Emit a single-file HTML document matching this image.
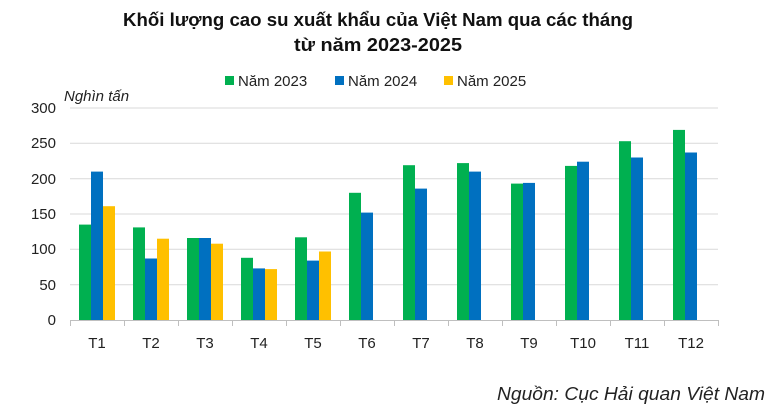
<!DOCTYPE html>
<html><head><meta charset="utf-8"><style>
body{margin:0;background:#fff;}
svg{display:block;font-family:"Liberation Sans",sans-serif;}
</style></head><body>
<svg width="780" height="414" viewBox="0 0 780 414">
<text x="378" y="26" text-anchor="middle" font-size="18" font-weight="bold" fill="#111" textLength="510" lengthAdjust="spacingAndGlyphs">Khối lượng cao su xuất khẩu của Việt Nam qua các tháng</text>
<text x="378" y="51" text-anchor="middle" font-size="18" font-weight="bold" fill="#111" textLength="168" lengthAdjust="spacingAndGlyphs">từ năm 2023-2025</text>
<g font-size="15" fill="#222">
<rect x="225" y="76" width="9" height="9" fill="#00b050"/><text x="238" y="86">Năm 2023</text>
<rect x="335" y="76" width="9" height="9" fill="#0070c0"/><text x="348" y="86">Năm 2024</text>
<rect x="444" y="76" width="9" height="9" fill="#ffc000"/><text x="457" y="86">Năm 2025</text>
</g>
<text x="64" y="101" font-size="15" font-style="italic" fill="#222">Nghìn tấn</text>
<g stroke="#d9d9d9" stroke-width="1">
<line x1="70" y1="108" x2="718" y2="108"/><line x1="70" y1="143.3" x2="718" y2="143.3"/><line x1="70" y1="178.7" x2="718" y2="178.7"/><line x1="70" y1="214" x2="718" y2="214"/><line x1="70" y1="249.3" x2="718" y2="249.3"/><line x1="70" y1="284.7" x2="718" y2="284.7"/>
</g>
<g font-size="15" fill="#222" text-anchor="end">
<text x="56" y="113">300</text><text x="56" y="148">250</text><text x="56" y="184">200</text><text x="56" y="219">150</text><text x="56" y="254">100</text><text x="56" y="290">50</text><text x="56" y="325">0</text>
</g>
<g fill="#00b050">
<rect x="79" y="224.6" width="12" height="95.4"/><rect x="133" y="227.4" width="12" height="92.6"/><rect x="187" y="238" width="12" height="82"/><rect x="241" y="257.8" width="12" height="62.2"/><rect x="295" y="237.3" width="12" height="82.7"/><rect x="349" y="192.8" width="12" height="127.2"/><rect x="403" y="165.2" width="12" height="154.8"/><rect x="457" y="163.1" width="12" height="156.9"/><rect x="511" y="183.6" width="12" height="136.4"/><rect x="565" y="165.9" width="12" height="154.1"/><rect x="619" y="141.2" width="12" height="178.8"/><rect x="673" y="129.9" width="12" height="190.1"/>
</g>
<g fill="#0070c0">
<rect x="91" y="171.6" width="12" height="148.4"/><rect x="145" y="258.5" width="12" height="61.5"/><rect x="199" y="238" width="12" height="82"/><rect x="253" y="268.4" width="12" height="51.6"/><rect x="307" y="260.6" width="12" height="59.4"/><rect x="361" y="212.6" width="12" height="107.4"/><rect x="415" y="188.6" width="12" height="131.4"/><rect x="469" y="171.6" width="12" height="148.4"/><rect x="523" y="182.9" width="12" height="137.1"/><rect x="577" y="161.7" width="12" height="158.3"/><rect x="631" y="157.5" width="12" height="162.5"/><rect x="685" y="152.5" width="12" height="167.5"/>
</g>
<g fill="#ffc000">
<rect x="103" y="206.2" width="12" height="113.8"/><rect x="157" y="238.7" width="12" height="81.3"/><rect x="211" y="243.7" width="12" height="76.3"/><rect x="265" y="269.1" width="12" height="50.9"/><rect x="319" y="251.5" width="12" height="68.5"/>
</g>
<g stroke="#bfbfbf" stroke-width="1">
<line x1="70" y1="320.5" x2="718" y2="320.5"/>
<line x1="70.5" y1="320" x2="70.5" y2="326"/><line x1="124.5" y1="320" x2="124.5" y2="326"/><line x1="178.5" y1="320" x2="178.5" y2="326"/><line x1="232.5" y1="320" x2="232.5" y2="326"/><line x1="286.5" y1="320" x2="286.5" y2="326"/><line x1="340.5" y1="320" x2="340.5" y2="326"/><line x1="394.5" y1="320" x2="394.5" y2="326"/><line x1="448.5" y1="320" x2="448.5" y2="326"/><line x1="502.5" y1="320" x2="502.5" y2="326"/><line x1="556.5" y1="320" x2="556.5" y2="326"/><line x1="610.5" y1="320" x2="610.5" y2="326"/><line x1="664.5" y1="320" x2="664.5" y2="326"/><line x1="718.5" y1="320" x2="718.5" y2="326"/>
</g>
<g font-size="15" fill="#222" text-anchor="middle">
<text x="97" y="348">T1</text><text x="151" y="348">T2</text><text x="205" y="348">T3</text><text x="259" y="348">T4</text><text x="313" y="348">T5</text><text x="367" y="348">T6</text><text x="421" y="348">T7</text><text x="475" y="348">T8</text><text x="529" y="348">T9</text><text x="583" y="348">T10</text><text x="637" y="348">T11</text><text x="691" y="348">T12</text>
</g>
<text x="497" y="400" font-size="18" font-style="italic" fill="#222" textLength="268" lengthAdjust="spacingAndGlyphs">Nguồn: Cục Hải quan Việt Nam</text>
</svg>
</body></html>
